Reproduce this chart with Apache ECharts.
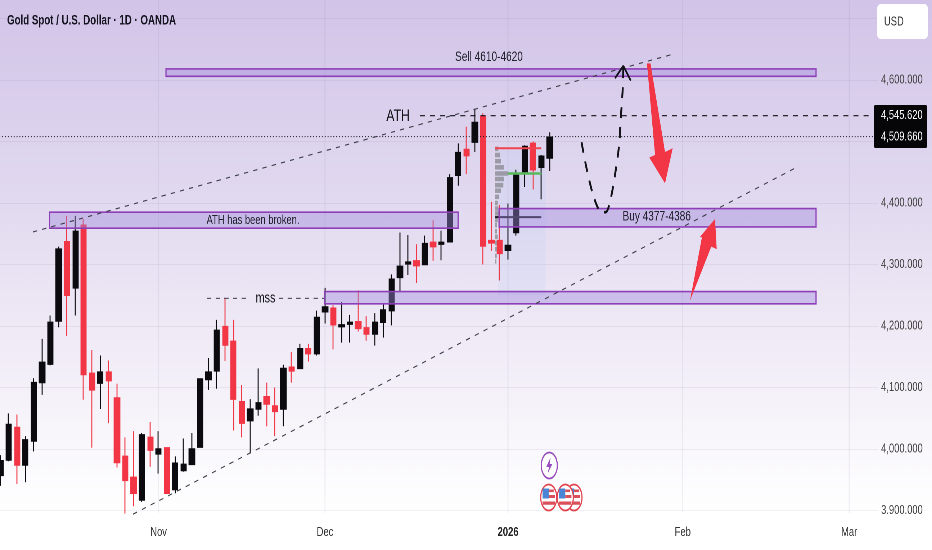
<!DOCTYPE html>
<html><head><meta charset="utf-8">
<style>html,body{margin:0;padding:0;background:#fff}
#wrap{width:932px;height:550px;overflow:hidden}
#c{width:1294.44px;height:550px;transform:scaleX(0.72);transform-origin:0 0}</style>
<script src="https://cdn.jsdelivr.net/npm/echarts@6/dist/echarts.min.js"></script>
</head><body><div id="wrap"><div id="c"></div></div>
<script>
// candles: [open, close, low, high], one per daily bar
const candles = [
[3957,3981,3940,3990],[3982,4040,3980,4058],[4035,3974,3943,4056],[3974,4015,3946,4021],[4013,4108,3996,4115],
[4108,4141,4088,4179],[4138,4206,4136,4217],[4208,4325,4198,4329],[4337,4250,4184,4379],[4262,4354,4217,4379],
[4364,4121,4080,4374],[4123,4096,4002,4161],[4107,4125,4065,4152],[4125,4111,4042,4144],[4083,3978,3970,4106],
[3988,3949,3895,4019],[3954,3928,3907,4029],[3917,4023,3914,4026],[4019,3998,3971,4044],[3992,4000,3960,4029],
[4002,3928,3927,4003],[3934,3977,3928,3988],[3965,3975,3963,4017],[3975,4000,3974,4026],[4003,4114,4002,4115],
[4113,4125,4096,4148],[4127,4193,4098,4210],[4199,4169,4143,4245],[4175,4081,4030,4210],[4077,4042,4019,4104],
[4046,4065,3993,4081],[4065,4075,4054,4131],[4085,4073,4037,4108],[4070,4061,4021,4100],[4065,4131,4037,4137],
[4133,4127,4108,4158],[4131,4163,4130,4171],[4163,4155,4142,4171],[4155,4214,4152,4225],[4223,4231,4204,4262],
[4229,4202,4162,4234],[4199,4202,4173,4239],[4203,4206,4173,4218],[4207,4196,4191,4258],[4197,4187,4176,4216],
[4187,4206,4168,4221],[4206,4226,4181,4235],[4225,4276,4201,4284],[4279,4297,4256,4352],[4301,4304,4283,4348],
[4306,4298,4270,4333],[4300,4334,4299,4347],[4336,4329,4306,4372],[4333,4336,4307,4355],[4337,4441,4336,4447],
[4445,4482,4428,4497],[4487,4477,4447,4524],[4499,4531,4483,4552],[4541,4330,4300,4546],[4339,4335,4322,4402],
[4339,4318,4274,4397],[4323,4331,4308,4399],[4352,4445,4347,4454],[4451,4492,4426,4494],[4497,4454,4422,4500],
[4458,4476,4406,4478],[4473,4507,4452,4515]];
const barCount = 106;
const timeTickIndex = [19,39,61,82,102];
const timeTickLabels = ['Nov','Dec','2026','Feb','Mar'];
const priceTicks = [4600,4400,4300,4200,4100,4000,3900];
const priceTickLabels = ['4,600.000','4,400.000','4,300.000','4,200.000','4,100.000','4,000.000','3,900.000'];
const lastPriceLabels = ['4,545.620','4,509.660'];
// zones: [fromBar, toBar, priceTop, priceBottom]
const zones = [[19.89,98.02,4618,4606],[5.89,55.0,4385,4359],[59.92,98.02,4391,4361],[38.92,98.02,4256,4236]];
// texts: [text, bar, price, size]
const notes = [['Sell 4610-4620',58.71,4637,14],['ATH has been broken.',30.35,4372,13],['Buy 4377-4386',78.87,4378,14]];
const bigNotes = [['ATH',47.78,4541,17],['mss',31.85,4245,15]];
// lines: bar, price
const upperChannel = [[3.9,4353],[80.83,4642]];
const lowerChannel = [[15.93,3894],[95.97,4460]];
const athLine = [[50.42,4542],[104.87,4542]];
const lastLine = [[-0.5,4508],[104.87,4508]];
const mssLeft = [[24.82,4245],[29.75,4245]];
const mssRight = [[33.47,4245],[38.88,4245]];
const path = [[69.83,4499],[70.46,4455],[71.25,4412],[72.05,4387],[72.74,4385],[73.26,4402],[73.86,4446],[74.34,4493],[74.55,4538],[74.78,4584],[74.86,4623]];
const pathHead = [[73.86,4603],[74.86,4623],[75.75,4599]];
const downArrow = [[77.7,4627],[78.12,4627],[79.87,4483],[80.79,4489],[79.87,4432],[77.98,4474],[78.67,4478]];
const upArrow = [[82.87,4241],[85.43,4329],[86.08,4325],[85.88,4374],[84.07,4345],[84.3,4344]];
// volume profile: row price and row length in bars
const profilePrices = [4488,4478,4468,4458,4448,4439,4429,4420,4410,4400,4391,4383,4372,4364,4354,4345,4335,4325,4314,4305];
const profileLengths = [.4,.6,.72,1.05,1.6,1.05,1,.72,.48,.32,.4,.48,.32,.24,.24,.32,.24,.24,.2,.16];
const profileLevels = [[59.44,65,4489,'#ef4450',2],[60.98,65,4448,'#58b85c',2.5],[59.44,65,4377,'#17171f',2]];
const shade = [59.8,65.5,4486,4250];

const SQUEEZE = 0.72;
const sx = function(x){return x/SQUEEZE;};
const FONT = '"Liberation Sans",sans-serif';
const gridColor = 'rgba(115,105,150,0.10)';

function lineS(data, color, width, dash, z, smooth){
  return {type:'line',xAxisIndex:1,yAxisIndex:0,data:data,symbol:'none',silent:true,smooth:smooth||false,z:z||6,
    lineStyle:{color:color,width:width,type:dash||'solid',cap:'butt'},clip:false};
}
function polyS(points,color){
  return {type:'custom',xAxisIndex:1,yAxisIndex:0,data:[0],z:7,silent:true,renderItem:function(p,api){
    return {type:'polygon',shape:{points:points.map(function(q){return api.coord(q);})},style:{fill:color}};
  }};
}
function textS(items,z,color){
  return {type:'custom',xAxisIndex:1,yAxisIndex:0,data:items.map(function(t,i){return i;}),z:z,silent:true,
    renderItem:function(p,api){
      var t=items[api.value(0)],c=api.coord([t[1],t[2]]);
      return {type:'text',x:c[0],y:c[1],style:{text:t[0],fill:color,font:t[3]+'px '+FONT,align:'center',verticalAlign:'middle'}};
    }};
}
const vertical = [];
timeTickIndex.forEach(function(i){vertical.push([i,3896],[i,4800],[null,null]);});

const series = [
 lineS(vertical,gridColor,1.4,'solid',1),
 {type:'custom',xAxisIndex:1,yAxisIndex:0,data:[0],z:2,silent:true,renderItem:function(p,api){
   var a=api.coord([shade[0],shade[2]]),b=api.coord([shade[1],shade[3]]);
   return {type:'rect',shape:{x:a[0],y:a[1],width:b[0]-a[0],height:b[1]-a[1]},style:{fill:'rgba(160,200,245,0.14)'}};
 }},
 {type:'candlestick',xAxisIndex:0,yAxisIndex:0,data:candles,barWidth:sx(5.6),z:3,silent:true,
   itemStyle:{color:'#0b0b0f',color0:'#f23645',borderColor:'#0b0b0f',borderColor0:'#f23645',borderWidth:1.4}},
 {type:'custom',xAxisIndex:1,yAxisIndex:0,data:profilePrices.map(function(t,i){return i;}),z:4,silent:true,renderItem:function(p,api){
   var k=api.value(0),a=api.coord([59.44,profilePrices[k]+3.7]),b=api.coord([59.44+profileLengths[k],profilePrices[k]-3.7]);
   return {type:'rect',shape:{x:a[0],y:a[1],width:b[0]-a[0],height:b[1]-a[1]},style:{fill:'rgba(140,140,148,0.8)'}};
 }},
 {type:'custom',xAxisIndex:1,yAxisIndex:0,data:zones.map(function(t,i){return i;}),z:5,silent:true,renderItem:function(p,api){
   var z=zones[api.value(0)],a=api.coord([z[0],z[2]]),b=api.coord([z[1],z[3]]);
   return {type:'rect',shape:{x:a[0],y:a[1],width:b[0]-a[0],height:b[1]-a[1]},style:{fill:'rgba(160,135,220,0.42)',stroke:'#8e3fb8',lineWidth:1.6}};
 }}
];
profileLevels.forEach(function(l){series.push(lineS([[l[0],l[2]],[l[1],l[2]]],l[3],l[4],'solid',4));});
series.push(
 lineS(lastLine,'#1a1a24',1,[1.4,2.6]),
 lineS(athLine,'#111118',1.2,[7,7]),
 lineS(upperChannel,'#3a3a46',1.1,[6,7]),
 lineS(lowerChannel,'#3a3a46',1.1,[6,7]),
 lineS(mssLeft,'#3a3a46',1,[6,6]),
 lineS(mssRight,'#3a3a46',1,[6,6]),
 lineS(path,'#111118',2.6,[11,9],6,0.3),
 lineS(pathHead,'#111118',2.2,'solid'),
 polyS(downArrow,'#f23645'),
 polyS(upArrow,'#f23645'),
 textS(notes,8,'#22222e'),
 textS(bigNotes,8,'#111118')
);

function flag(cx,cy,z){
  return {type:'group',x:sx(cx),y:cy,scaleX:0.855,z:z,children:[
    {type:'circle',shape:{cx:0,cy:0,r:13},style:{fill:'#fff',stroke:'#e2434e',lineWidth:1.8},z:z},
    {type:'rect',shape:{x:-10,y:-9,width:10,height:10},style:{fill:'#4a84d4'},z:z},
    {type:'rect',shape:{x:0,y:-8,width:8,height:2.6},style:{fill:'#d9505a'},z:z},
    {type:'rect',shape:{x:0,y:-2.5,width:10,height:3},style:{fill:'#d9505a'},z:z},
    {type:'rect',shape:{x:-10,y:4,width:20,height:3.2},style:{fill:'#d9505a'},z:z}
  ]};
}
const graphic = [
 {type:'rect',shape:{x:sx(873),y:514,width:sx(59),height:36},style:{fill:'#fff'},z:50},
 {type:'text',x:sx(7),y:21,style:{text:'Gold Spot / U.S. Dollar · 1D · OANDA',fill:'#141420',font:'bold 13.5px '+FONT,verticalAlign:'middle'},z:60},
 {type:'rect',shape:{x:sx(877),y:4,width:sx(51),height:35,r:5},style:{fill:'#fff'},z:60},
 {type:'text',x:sx(884),y:22,style:{text:'USD',fill:'#333',font:'13px '+FONT,verticalAlign:'middle'},z:61},
 {type:'rect',shape:{x:sx(874),y:105,width:sx(53),height:43,r:2},style:{fill:'#060608'},z:60},
 {type:'text',x:sx(881),y:115.5,style:{text:lastPriceLabels[0],fill:'#fff',font:'13px '+FONT,verticalAlign:'middle'},z:61},
 {type:'text',x:sx(881),y:137,style:{text:lastPriceLabels[1],fill:'#fff',font:'13px '+FONT,verticalAlign:'middle'},z:61},
 {type:'group',x:sx(549.3),y:465.5,scaleX:0.855,z:60,children:[
  {type:'circle',shape:{cx:0,cy:0,r:13},style:{fill:'rgba(255,255,255,0.6)',stroke:'#9a4dbd',lineWidth:1.8},z:60},
  {type:'polygon',shape:{points:[[2,-8],[-5,1.5],[-0.5,1.5],[-2.5,8],[5,-1.5],[0.5,-1.5]]},style:{fill:'#9a4dbd'},z:61}]},
 flag(574,497.5,60),
 flag(565.3,497.5,61),
 flag(548.7,497.5,62)
];

const option = {
 animation:false,
 backgroundColor:{type:'linear',x:0,y:0,x2:0,y2:1,colorStops:[
  {offset:0,color:'#d2c4e8'},{offset:0.37,color:'#e2daf0'},{offset:0.6,color:'#efeaf6'},{offset:0.93,color:'#ffffff'},{offset:1,color:'#ffffff'}]},
 grid:{left:sx(-3.66),top:-43,width:sx(881.92),height:615,containLabel:false,outerBoundsMode:'none'},
 xAxis:[
  {type:'category',data:Array.from({length:barCount},function(_,i){return String(i);}),boundaryGap:true,
   axisLine:{show:false},axisTick:{show:false},splitLine:{show:false},
   axisLabel:{margin:-46,interval:function(i){return timeTickIndex.indexOf(i)>=0;},hideOverlap:false,
     formatter:function(v){var k=timeTickIndex.indexOf(+v);var s=k>=0?timeTickLabels[k]:'';return s==='2026'?'{b|2026}':s;},
     color:'#333',fontFamily:FONT,fontSize:13,rich:{b:{fontWeight:'bold',fontFamily:FONT,fontSize:13,color:'#222'}}}},
  {type:'value',min:-0.5,max:barCount-0.5,show:false}
 ],
 yAxis:[{type:'value',position:'right',min:3800,max:4800,interval:100,scale:false,
   axisLine:{show:false},axisTick:{show:false},
   splitLine:{show:true,lineStyle:{color:gridColor,width:1}},
   axisLabel:{margin:4,align:'left',color:'#444',fontFamily:FONT,fontSize:13,
     formatter:function(v){var k=priceTicks.indexOf(v);return k>=0?priceTickLabels[k]:'';}}}],
 series:series,
 graphic:graphic
};
echarts.init(document.getElementById('c'),null,{renderer:'canvas',devicePixelRatio:2}).setOption(option);
</script></body></html>
